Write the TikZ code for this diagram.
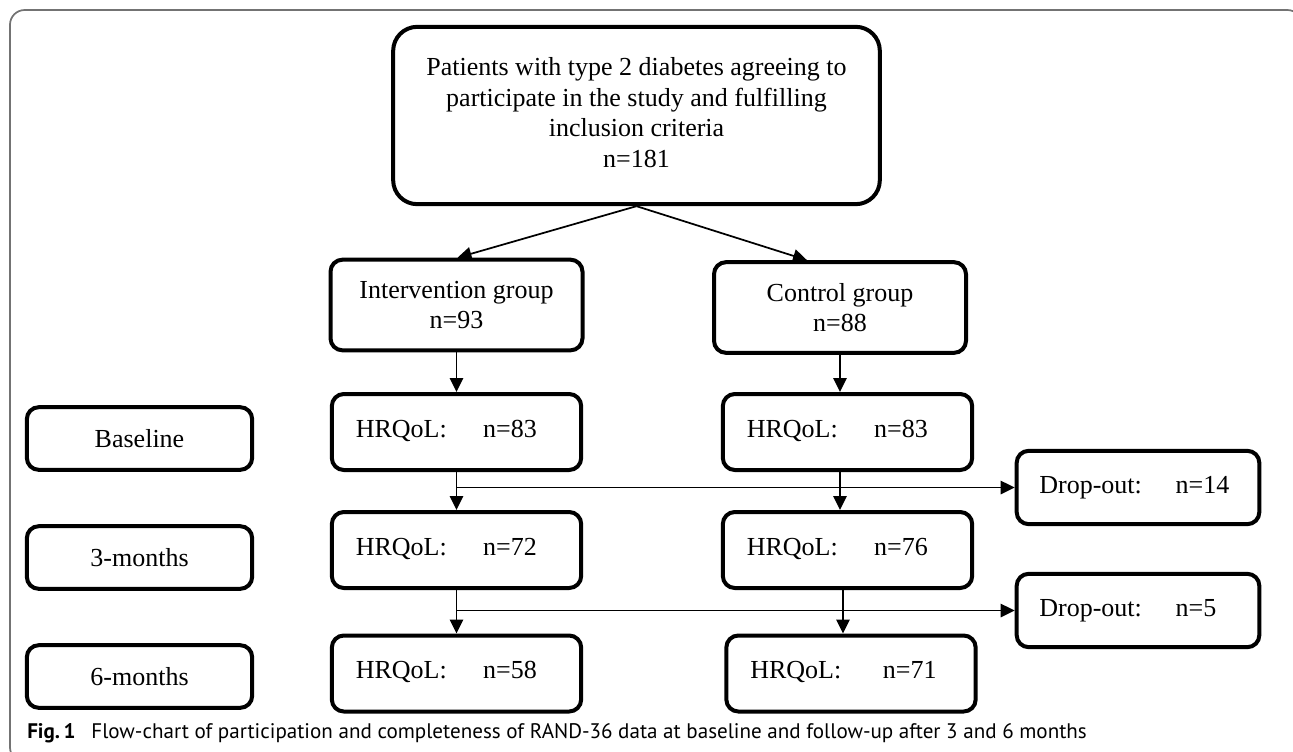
\documentclass[tikz,border=0pt]{standalone}
\usepackage{fontspec}
\setmainfont{Liberation Serif}
\newfontfamily\capfont{PT Sans}
\usetikzlibrary{arrows.meta,calc}

\begin{document}
\begin{tikzpicture}[x=0.75pt,y=0.75pt,yscale=-1,xscale=1,
    box/.style={draw,line width=3pt,rounded corners=9pt,inner sep=0pt,
      font=\fontsize{19.5}{23}\selectfont,align=center},
    topbox/.style={box,rounded corners=18pt,minimum width=365pt,minimum height=133pt},
    grpbox/.style={box,minimum width=189pt,minimum height=68pt},
    rowbox/.style={box,minimum width=169pt,minimum height=47pt},
    hrqbox/.style={box,inner xsep=18pt,text width=151pt,minimum height=57pt,align=left},
    dropbox/.style={box,inner xsep=17pt,text width=148pt,minimum height=55pt,align=left},
    arr/.style={line width=1.3pt,-{Triangle[length=10.5pt,width=10pt]}},
    frame/.style={draw=black!55,line width=1.3pt,rounded corners=11pt}]

\useasboundingbox (0,0) rectangle (1293,751);

%Outer frame
\begin{scope}
  \clip (0,0) rectangle (1293,751);
  \draw [frame] (10,10) rectangle (1302,762);
\end{scope}

% Text Node
\node [topbox] (pat) at (636.5,115.5) {\raisebox{4pt}{\begin{tabular}{@{}c@{}}Patients with type 2 diabetes agreeing to\\ participate in the study and fulfilling\\ inclusion criteria\\ n=181\end{tabular}}};

% Text Node
\node [grpbox] (ig) at (456.5,305) {Intervention group\\ n=93};
% Text Node
\node [grpbox] (cg) at (840,307.5) {Control group\\ n=88};

% Text Node
\node [rowbox] (base) at (139.5,438.5) {Baseline};
\node [rowbox] (m3) at (139.5,557.5) {3-months};
\node [rowbox] (m6) at (139.5,676.5) {6-months};

% Text Node
\node [hrqbox] (i1) at (456.5,432) {\raisebox{5pt}{HRQoL:\hspace{1.4em}n=83}};
\node [hrqbox] (i2) at (456.5,550) {\raisebox{5pt}{HRQoL:\hspace{1.4em}n=72}};
\node [hrqbox] (i3) at (456.5,673.5) {\raisebox{5pt}{HRQoL:\hspace{1.4em}n=58}};

% Text Node
\node [hrqbox] (c1) at (847.5,432) {\raisebox{5pt}{HRQoL:\hspace{1.4em}n=83}};
\node [hrqbox] (c2) at (847.5,550) {\raisebox{5pt}{HRQoL:\hspace{1.4em}n=76}};
\node [hrqbox] (c3) at (851,673.5) {\raisebox{5pt}{HRQoL:\hspace{1.6em}n=71}};

% Text Node
\node [dropbox] (d1) at (1138,487.5) {\raisebox{3pt}{Drop-out:\hspace{1.3em}n=14}};
\node [dropbox] (d2) at (1138,610.5) {\raisebox{3pt}{Drop-out:\hspace{1.3em}n=5}};

%Straight Lines
\draw [arr] (pat.south) -- ($(ig.north)+(1,0)$);
\draw [arr] (pat.south) -- ($(cg.north)+(-33,0)$);

\draw [arr] (ig.south) -- (i1.north);
\draw [arr] (cg.south) -- (cg.south |- c1.north);

%Straight Lines
\coordinate (j1) at (i1.south |- d1.west);
\coordinate (j2) at (i2.south |- d2.west);
\draw [arr] (i1.south) -- (i2.north);
\draw [arr] (i2.south) -- (i3.north);
\draw [arr] (c1.south -| cg.south) -- (c2.north -| cg.south);
\draw [arr] ($(c2.south -| cg.south)+(3,0)$) -- ($(c3.north -| cg.south)+(3,0)$);
\draw [arr] (j1) -- (d1.west);
\draw [arr] (j2) -- (d2.west);

% Text Node
\node [anchor=base west,inner sep=0pt] (cap) at (27,738)
  {\capfont\fontsize{15.8}{18}\selectfont{\bfseries Fig.\,1}\hspace{0.75em}Flow-chart of participation and completeness of RAND-36 data at baseline and follow-up after 3 and 6 months};

\end{tikzpicture}
\end{document}
